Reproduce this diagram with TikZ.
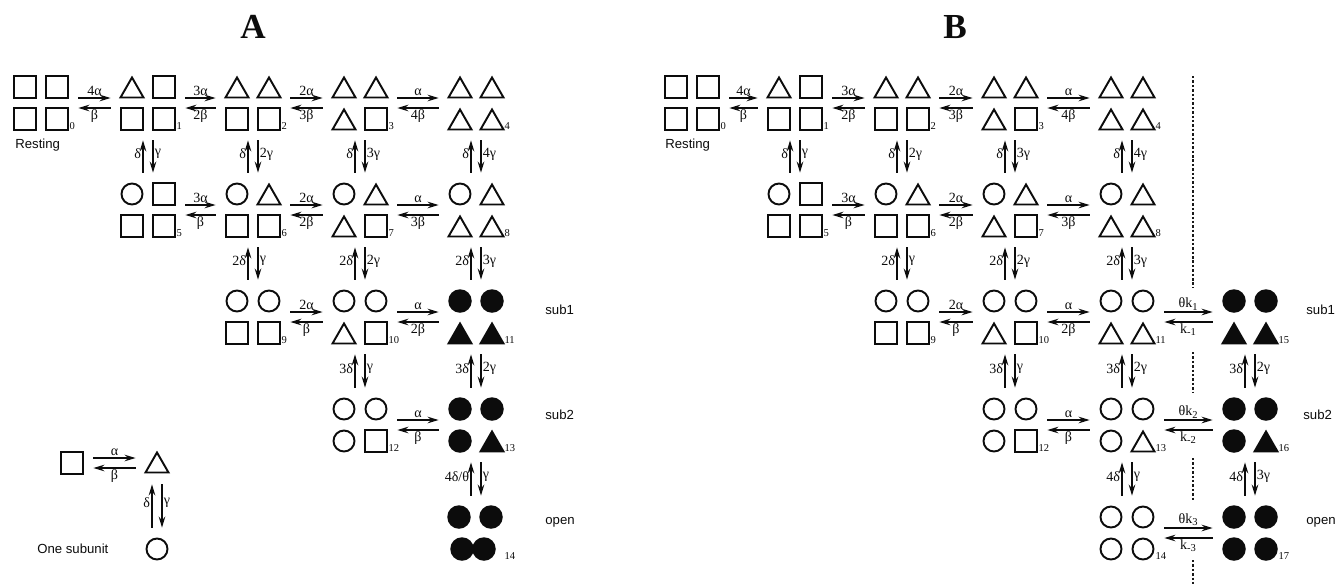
\documentclass[tikz,border=0pt]{standalone}
\usepackage{fontspec}
\setmainfont{Liberation Serif}
\setsansfont{Liberation Sans}
\usetikzlibrary{arrows.meta, calc}
\definecolor{inkcol}{RGB}{12,12,12}
\definecolor{sepcol}{RGB}{25,25,25}

\tikzset{
  shp/.style={inkcol, line width=1.1pt, line join=miter},
  sq/.pic={\draw[shp] (-11,-11) rectangle (11,11);},
  tri/.pic={\draw[shp] (0,-9.5) -- (11.5,10.5) -- (-11.5,10.5) -- cycle;},
  ftri/.pic={\filldraw[shp] (0,-9.5) -- (11.5,10.5) -- (-11.5,10.5) -- cycle;},
  cir/.pic={\draw[shp] (0,0) circle (0.21cm);},
  fcir/.pic={\fill[inkcol] (0,0) circle (0.235cm);},
  stbox/.style={minimum width=1.08cm, minimum height=1.08cm, inner sep=0pt},
  onebox/.style={minimum width=0.44cm, minimum height=0.44cm, inner sep=0pt},
  rate/.style={inkcol, -{Stealth[length=0.22cm,width=0.13cm]}, line width=1pt,
               shorten >=0.2cm, shorten <=0.2cm},
  lbl/.style={inkcol, font=\fontsize{8}{9}\selectfont, inner sep=0.6pt},
  idx/.style={inkcol, font=\fontsize{6}{7}\selectfont, inner sep=0.5pt, anchor=south west},
  tag/.style={inkcol, font=\sffamily\fontsize{7.5}{9}\selectfont, anchor=west, inner sep=0pt},
  title/.style={inkcol, font=\fontsize{20}{24}\selectfont\bfseries},
  sep/.style={sepcol, line width=1.3pt, dash pattern=on 1.4pt off 1.1pt}
}

% state: name, position, top-left, top-right, bottom-left, bottom-right, number
\newcommand{\chstate}[7]{%
  \node[stbox] (#1) at (#2) {};
  \pic at ($(#1)+(-16,-16)$) {#3};
  \pic at ($(#1)+(16,-16)$) {#4};
  \pic at ($(#1)+(-16,16)$) {#5};
  \pic at ($(#1)+(16,16)$) {#6};
  \node[idx] (#1n) at (#1.south east) {#7};
}
% forward/backward pair: left state, right state, forward rate, backward rate
\newcommand{\hpair}[4]{%
  \draw[rate] ([yshift=0.1cm]#1.east) -- ([yshift=0.1cm]#2.west)
    node[midway, above, lbl] {#3};
  \draw[rate] ([yshift=-0.1cm]#2.west) -- ([yshift=-0.1cm]#1.east)
    node[midway, below, lbl] {#4};
}
% up/down pair: upper state, lower state, up rate, down rate
\newcommand{\vpair}[4]{%
  \draw[rate] ([xshift=-0.1cm]#2.north) -- ([xshift=-0.1cm]#1.south)
    node[pos=0.55, left, lbl] {#3};
  \draw[rate] ([xshift=0.1cm]#1.south) -- ([xshift=0.1cm]#2.north)
    node[pos=0.45, right, lbl] {#4};
}

\begin{document}
\begin{tikzpicture}[x=0.02cm, y=-0.02cm]
  \useasboundingbox (0,0) rectangle (1336,586);

  % --- titles ------------------------------------------------------------
  \node[title] (titleA) at (253,27) {A};
  \node[title] (titleB) at (955,27) {B};

  % --- panel A: states ---------------------------------------------------
  \chstate{a0}{41,103}{sq}{sq}{sq}{sq}{0}
  \chstate{a1}{148,103}{tri}{sq}{sq}{sq}{1}
  \chstate{a2}{253,103}{tri}{tri}{sq}{sq}{2}
  \chstate{a3}{360,103}{tri}{tri}{tri}{sq}{3}
  \chstate{a4}{476,103}{tri}{tri}{tri}{tri}{4}
  \chstate{a5}{148,210}{cir}{sq}{sq}{sq}{5}
  \chstate{a6}{253,210}{cir}{tri}{sq}{sq}{6}
  \chstate{a7}{360,210}{cir}{tri}{tri}{sq}{7}
  \chstate{a8}{476,210}{cir}{tri}{tri}{tri}{8}
  \chstate{a9}{253,317}{cir}{cir}{sq}{sq}{9}
  \chstate{a10}{360,317}{cir}{cir}{tri}{sq}{10}
  \chstate{a11}{476,317}{fcir}{fcir}{ftri}{ftri}{11}
  \chstate{a12}{360,425}{cir}{cir}{cir}{sq}{12}
  \chstate{a13}{476,425}{fcir}{fcir}{fcir}{ftri}{13}

  % open state, bottom pair drawn closer
  \node[stbox] (a14) at (476,533) {};
  \pic at ($(a14)+(-17,-16)$) {fcir};
  \pic at ($(a14)+(15,-16)$) {fcir};
  \pic at ($(a14)+(-14,16)$) {fcir};
  \pic at ($(a14)+(8,16)$) {fcir};
  \node[idx] (a14n) at (a14.south east) {14};

  \node[tag] (restA) at (15,145) {Resting};
  \node[tag] (sub1A) at (545,310) {sub1};
  \node[tag] (sub2A) at (545,415) {sub2};
  \node[tag] (openA) at (545,522) {open};

  % --- panel A: rates ----------------------------------------------------
  \hpair{a0}{a1}{4α}{β}
  \hpair{a1}{a2}{3α}{2β}
  \hpair{a2}{a3}{2α}{3β}
  \hpair{a3}{a4}{α}{4β}
  \hpair{a5}{a6}{3α}{β}
  \hpair{a6}{a7}{2α}{2β}
  \hpair{a7}{a8}{α}{3β}
  \hpair{a9}{a10}{2α}{β}
  \hpair{a10}{a11}{α}{2β}
  \hpair{a12}{a13}{α}{β}

  \vpair{a1}{a5}{δ}{γ}
  \vpair{a2}{a6}{δ}{2γ}
  \vpair{a3}{a7}{δ}{3γ}
  \vpair{a4}{a8}{δ}{4γ}
  \vpair{a6}{a9}{2δ}{γ}
  \vpair{a7}{a10}{2δ}{2γ}
  \vpair{a8}{a11}{2δ}{3γ}
  \vpair{a10}{a12}{3δ}{γ}
  \vpair{a11}{a13}{3δ}{2γ}
  \vpair{a13}{a14}{4δ/θ}{γ}

  % --- one subunit -------------------------------------------------------
  \node[onebox] (u1) at (72,463) {};
  \node[onebox] (u2) at (157,463) {};
  \node[onebox] (u3) at (157,549) {};
  \pic at (u1) {sq};
  \pic at ($(u2)+(0,-1)$) {tri};
  \pic at (u3) {cir};
  \hpair{u1}{u2}{α}{β}
  \vpair{u2}{u3}{δ}{γ}
  \node[tag] (oneA) at (37,549) {One subunit};

  % --- panel B: states ---------------------------------------------------
  \chstate{b0}{692,103}{sq}{sq}{sq}{sq}{0}
  \chstate{b1}{795,103}{tri}{sq}{sq}{sq}{1}
  \chstate{b2}{902,103}{tri}{tri}{sq}{sq}{2}
  \chstate{b3}{1010,103}{tri}{tri}{tri}{sq}{3}
  \chstate{b4}{1127,103}{tri}{tri}{tri}{tri}{4}
  \chstate{b5}{795,210}{cir}{sq}{sq}{sq}{5}
  \chstate{b6}{902,210}{cir}{tri}{sq}{sq}{6}
  \chstate{b7}{1010,210}{cir}{tri}{tri}{sq}{7}
  \chstate{b8}{1127,210}{cir}{tri}{tri}{tri}{8}
  \chstate{b9}{902,317}{cir}{cir}{sq}{sq}{9}
  \chstate{b10}{1010,317}{cir}{cir}{tri}{sq}{10}
  \chstate{b11}{1127,317}{cir}{cir}{tri}{tri}{11}
  \chstate{b12}{1010,425}{cir}{cir}{cir}{sq}{12}
  \chstate{b13}{1127,425}{cir}{cir}{cir}{tri}{13}
  \chstate{b14}{1127,533}{cir}{cir}{cir}{cir}{14}
  \chstate{b15}{1250,317}{fcir}{fcir}{ftri}{ftri}{15}
  \chstate{b16}{1250,425}{fcir}{fcir}{fcir}{ftri}{16}
  \chstate{b17}{1250,533}{fcir}{fcir}{fcir}{fcir}{17}

  \node[tag] (restB) at (665,145) {Resting};
  \node[tag] (sub1B) at (1306,310) {sub1};
  \node[tag] (sub2B) at (1303,415) {sub2};
  \node[tag] (openB) at (1306,522) {open};

  % --- panel B: rates ----------------------------------------------------
  \hpair{b0}{b1}{4α}{β}
  \hpair{b1}{b2}{3α}{2β}
  \hpair{b2}{b3}{2α}{3β}
  \hpair{b3}{b4}{α}{4β}
  \hpair{b5}{b6}{3α}{β}
  \hpair{b6}{b7}{2α}{2β}
  \hpair{b7}{b8}{α}{3β}
  \hpair{b9}{b10}{2α}{β}
  \hpair{b10}{b11}{α}{2β}
  \hpair{b12}{b13}{α}{β}
  \hpair{b11}{b15}{θk\textsubscript{1}}{k\textsubscript{-1}}
  \hpair{b13}{b16}{θk\textsubscript{2}}{k\textsubscript{-2}}
  \hpair{b14}{b17}{θk\textsubscript{3}}{k\textsubscript{-3}}

  \vpair{b1}{b5}{δ}{γ}
  \vpair{b2}{b6}{δ}{2γ}
  \vpair{b3}{b7}{δ}{3γ}
  \vpair{b4}{b8}{δ}{4γ}
  \vpair{b6}{b9}{2δ}{γ}
  \vpair{b7}{b10}{2δ}{2γ}
  \vpair{b8}{b11}{2δ}{3γ}
  \vpair{b10}{b12}{3δ}{γ}
  \vpair{b11}{b13}{3δ}{2γ}
  \vpair{b13}{b14}{4δ}{γ}
  \vpair{b15}{b16}{3δ}{2γ}
  \vpair{b16}{b17}{4δ}{3γ}

  % --- dotted divider ----------------------------------------------------
  \draw[sep] (1193,76) -- (1193,287);
  \draw[sep] (1193,352) -- (1193,393);
  \draw[sep] (1193,458) -- (1193,500);
  \draw[sep] (1193,560) -- (1193,586);

\end{tikzpicture}
\end{document}
